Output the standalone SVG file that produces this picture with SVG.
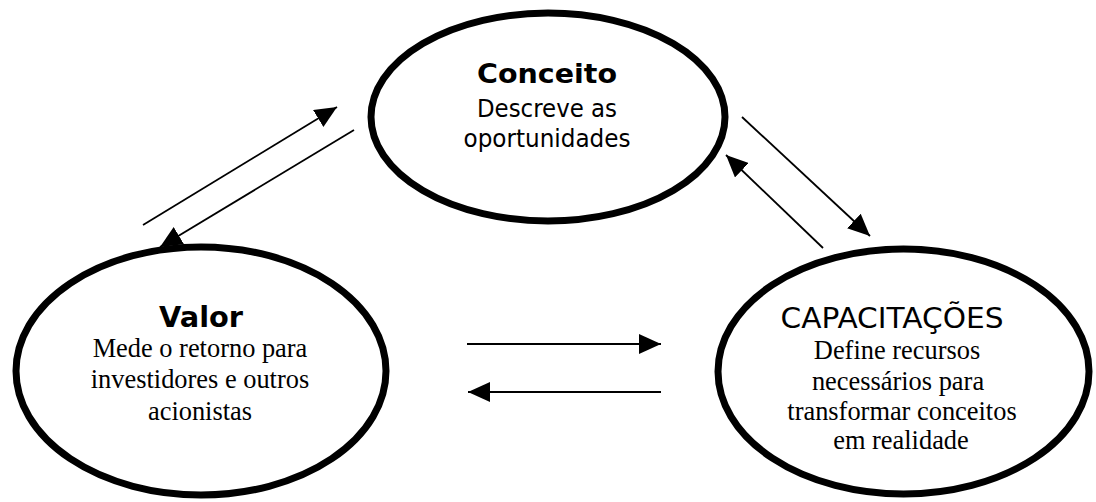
<svg xmlns="http://www.w3.org/2000/svg" width="1096" height="502" viewBox="0 0 1096 502">
<style>
.node{fill:#fff;stroke:#000;stroke-width:7}
.head{font-family:"DejaVu Sans","Liberation Sans",sans-serif;font-weight:bold;text-anchor:middle;fill:#000}
.sans{font-family:"DejaVu Sans","Liberation Sans",sans-serif;text-anchor:middle;fill:#000}
.serif{font-family:"Liberation Serif","Times New Roman",serif;font-size:26.4px;text-anchor:middle;fill:#000}
.conn line{stroke:#000;stroke-width:1.8;marker-end:url(#arrow)}
</style>
<defs>
<marker id="arrow" markerUnits="userSpaceOnUse" markerWidth="22" markerHeight="20" refX="22" refY="10" orient="auto">
<path d="M0,0 L22,10 L0,20 Z" fill="#000"/>
</marker>
</defs>
<rect width="1096" height="502" fill="#fff"/>
<g id="conceito">
<ellipse class="node" cx="548" cy="117" rx="177" ry="104"/>
<text class="head" x="547" y="83" font-size="27" textLength="140" lengthAdjust="spacingAndGlyphs">Conceito</text>
<text class="sans" x="547" y="117" font-size="25" textLength="140" lengthAdjust="spacingAndGlyphs">Descreve as</text>
<text class="sans" x="547" y="147" font-size="25" textLength="167" lengthAdjust="spacingAndGlyphs">oportunidades</text>
</g>
<g id="valor">
<ellipse class="node" cx="201" cy="371" rx="185" ry="124"/>
<text class="head" x="201" y="327" font-size="29" textLength="84" lengthAdjust="spacingAndGlyphs">Valor</text>
<text class="serif" x="200" y="357">Mede o retorno para</text>
<text class="serif" x="200" y="388">investidores e outros</text>
<text class="serif" x="200" y="420">acionistas</text>
</g>
<g id="capacitacoes">
<ellipse class="node" cx="903.5" cy="371.5" rx="185.5" ry="122.5"/>
<text class="sans" x="892" y="328" font-size="28" textLength="223" lengthAdjust="spacingAndGlyphs">CAPACITAÇÕES</text>
<text class="serif" x="897" y="359">Define recursos</text>
<text class="serif" x="898" y="390">necessários para</text>
<text class="serif" x="902" y="420">transformar conceitos</text>
<text class="serif" x="901" y="449">em realidade</text>
</g>
<g id="connectors" class="conn">
<line x1="143" y1="225" x2="337" y2="107"/>
<line x1="354" y1="130" x2="160" y2="247"/>
<line x1="742" y1="117" x2="870" y2="236"/>
<line x1="823" y1="248" x2="726" y2="155"/>
<line x1="467" y1="344" x2="661" y2="344"/>
<line x1="661" y1="392" x2="468" y2="392"/>
</g>
</svg>
